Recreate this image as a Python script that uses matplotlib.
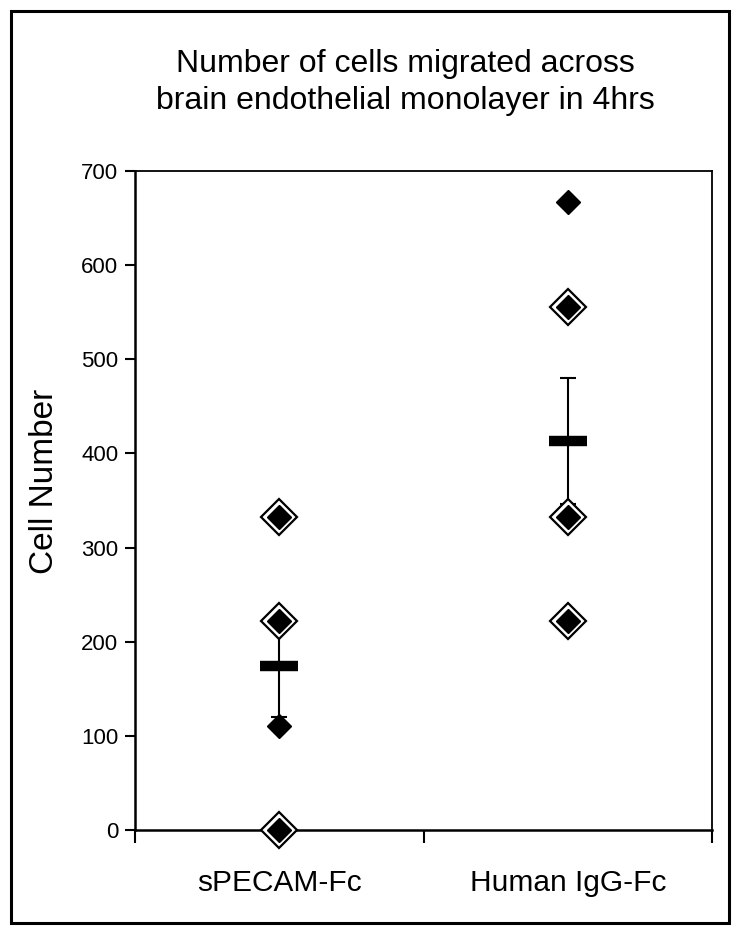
import numpy as np
import matplotlib
matplotlib.use("Agg")
import matplotlib.pyplot as plt
from matplotlib.patches import Rectangle

plt.rcParams['font.family'] = ['Liberation Sans', 'DejaVu Sans']

groups = ["sPECAM-Fc", "Human IgG-Fc"]
# individual counts (filled diamonds)
spec_pts = [333, 222, 111, 0]
igg_pts = [667, 556, 333, 222]
# points drawn with an outlined diamond too
spec_open = [333, 222, 0]
igg_open = [556, 333, 222]
means = [174, 413]
sems = [54, 67]

fig = plt.figure(figsize=(7.5, 9.38), dpi=100)
ax = fig.add_axes([135 / 750, 1 - 830 / 938, (712 - 135) / 750, (830 - 171) / 938])

xpos = [0.5, 1.5]

# mean +/- sem
ax.errorbar(xpos, means, yerr=sems, fmt='none', ecolor='black',
            elinewidth=1.5, capsize=6, capthick=1.5, zorder=2)
ax.plot(xpos, means, linestyle='none', marker='_', markersize=27,
        markeredgewidth=7.5, color='black', zorder=3)

ax.plot([xpos[0]] * len(spec_open), spec_open, linestyle='none', marker='D',
        markersize=18.5, markerfacecolor='white', markeredgecolor='black',
        markeredgewidth=1.6, zorder=4, clip_on=False)
ax.plot([xpos[1]] * len(igg_open), igg_open, linestyle='none', marker='D',
        markersize=18.5, markerfacecolor='white', markeredgecolor='black',
        markeredgewidth=1.6, zorder=4, clip_on=False)
ax.plot([xpos[0]] * len(spec_pts), spec_pts, linestyle='none', marker='D',
        markersize=12, color='black', zorder=5, clip_on=False)
ax.plot([xpos[1]] * len(igg_pts), igg_pts, linestyle='none', marker='D',
        markersize=12, color='black', zorder=5, clip_on=False)

ax.set_xlim(0, 2)
ax.set_ylim(0, 700)
ax.set_yticks(np.arange(0, 701, 100))
ax.set_xticks([0, 1, 2])
ax.set_xticklabels([])
ax.set_xticks(xpos, minor=True)
ax.set_xticklabels(groups, minor=True, fontsize=21.5)
ax.tick_params(axis='x', which='minor', length=0, pad=28)
ax.tick_params(axis='x', which='major', direction='out', length=9, width=1.5)
ax.tick_params(axis='y', direction='out', length=7, width=1.5, labelsize=16, pad=5)

for side in ['left', 'bottom']:
    ax.spines[side].set_linewidth(1.8)
for side in ['top', 'right']:
    ax.spines[side].set_linewidth(1.3)

fig.text(45 / 750, 1 - 481 / 938, "Cell Number", rotation=90,
         ha='center', va='center', fontsize=24)

fig.text(405 / 750, 1 - 49 / 938,
         "Number of cells migrated across\nbrain endothelial monolayer in 4hrs",
         ha='center', va='top', fontsize=23, linespacing=1.32)

fig.patches.append(Rectangle((11 / 750, 1 - 923 / 938), (729 - 11) / 750, (923 - 11) / 938,
                             transform=fig.transFigure, fill=False,
                             edgecolor='black', linewidth=2.2))

fig.savefig("out.png", dpi=100)
